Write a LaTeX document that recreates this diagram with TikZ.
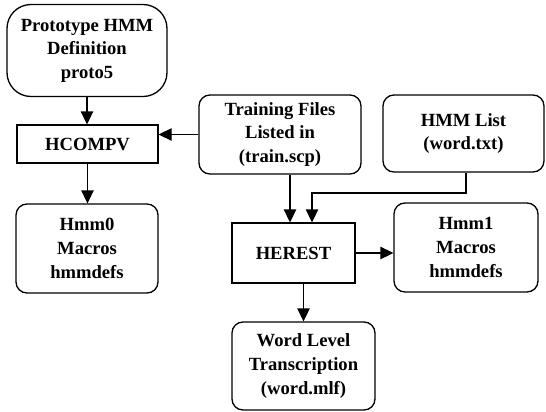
\documentclass[tikz,border=0pt]{standalone}
\usepackage{fontspec}
\setmainfont{Liberation Serif}
\usetikzlibrary{arrows.meta}
\begin{document}
\begin{tikzpicture}[x=1pt,y=-1pt,
  every node/.style={font=\bfseries\fontsize{18.6}{23.6}\selectfont, align=center, inner sep=0pt},
  box/.style={draw, line width=1.3pt, rounded corners=11pt},
  sqbox/.style={draw, line width=1.3pt},
  arr/.style={line width=1.3pt, -{Triangle[length=13pt,width=12.5pt]}}
]
\useasboundingbox (0,0) rectangle (546,412);

% boxes
\node[box, rounded corners=24pt, minimum width=160pt, minimum height=92pt] (proto) at (87,50.5)
  {Prototype HMM\\Definition\\proto5};
\node[sqbox, minimum width=141pt, minimum height=38pt] (hcompv) at (87.5,144) {HCOMPV};
\node[box, minimum width=142pt, minimum height=89pt] (hmm0) at (87,248.5) {Hmm0\\Macros\\hmmdefs};
\node[box, minimum width=162pt, minimum height=79pt] (train) at (280,134.5)
  {Training Files\\Listed in\\(train.scp)};
\node[box, minimum width=161pt, minimum height=77pt] (list) at (463.5,133.5) {HMM List\\(word.txt)};
\node[sqbox, minimum width=123pt, minimum height=60pt] (herest) at (293.5,253) {HEREST};
\node[box, minimum width=144pt, minimum height=89pt] (hmm1) at (466,247.5) {Hmm1\\Macros\\hmmdefs};
\node[box, minimum width=143pt, minimum height=88pt] (word) at (303.5,366)
  {Word Level\\Transcription\\(word.mlf)};

% connectors
\draw[arr] (proto.south) -- (proto.south |- hcompv.north);
\draw[arr] (hcompv.south) -- (hcompv.south |- hmm0.north);
\draw[arr] (train.west) -- (train.west -| hcompv.east);
\draw[arr] ([xshift=10pt]train.south) -- ([xshift=10pt]train.south |- herest.north);
\coordinate (bend) at (466,193);
\draw[arr] (bend |- list.south) -- (bend) -- (312,193) -- (312,193 |- herest.north);
\draw[arr] (herest.east) -- (herest.east -| hmm1.west);
\draw[arr] (word.north |- herest.south) -- (word.north);
\end{tikzpicture}
\end{document}
